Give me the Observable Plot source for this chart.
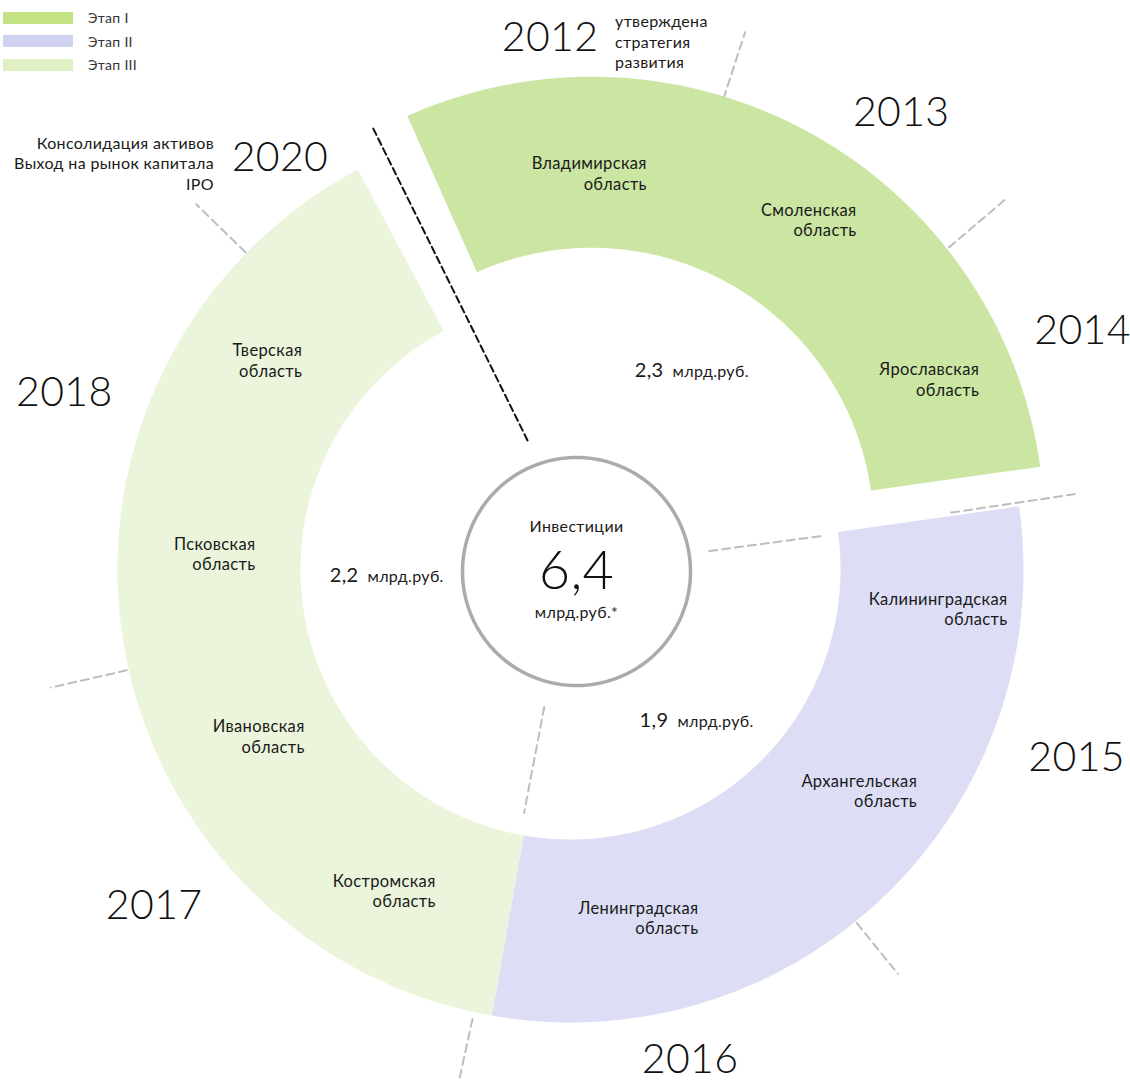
<!DOCTYPE html>
<html><head><meta charset="utf-8">
<script src="https://cdn.jsdelivr.net/npm/d3@7"></script>
<script src="https://cdn.jsdelivr.net/npm/@observablehq/plot@0.6"></script>
<style>
body{margin:0;background:#fff;font-family:Lato,"Open Sans",sans-serif;}
#wrap{position:relative;width:1130px;height:1081px;}
#legend{position:absolute;left:3px;top:6px;font-size:14px;color:#333;letter-spacing:0.3px;}
.row{display:flex;align-items:center;height:23.5px;}
.sw{width:70px;height:12px;margin-right:15px;}
svg text{letter-spacing:0.35px;}
</style></head><body><div id="wrap"><div id="legend"></div></div>
<script>
// ---------- data ----------
const stages = ["Этап I", "Этап II", "Этап III"];
const stageInvestment = [2.3, 1.9, 2.2];           // млрд.руб.
const totalInvestment = "6,4";
const regions = ["Владимирская\nобласть", "Смоленская\nобласть", "Ярославская\nобласть",
  "Калининградская\nобласть", "Архангельская\nобласть", "Ленинградская\nобласть",
  "Костромская\nобласть", "Ивановская\nобласть", "Псковская\nобласть", "Тверская\nобласть"];
const regionStage = ["Этап I", "Этап I", "Этап I", "Этап II", "Этап II", "Этап II",
  "Этап III", "Этап III", "Этап III", "Этап III"];
const cycleStartAngle = -26;                        // degrees clockwise from 12 o'clock
const years = ["2012", "2013", "2014", "2015", "2016", "2017", "2018", "2020"];
const yearAngles = [-2.2, 35.9, 65, 110.4, 166.3, 231.1, 289.2, 324.8];
const yearRadii = [532, 564, 565, 540, 505, 535, 536, 504];
const yearNotes = ["утверждена\nстратегия\nразвития", "", "", "", "", "", "",
  "Консолидация активов\nВыход на рынок капитала\nIPO"];
const regionLabelAngles = [8.8, 40.5, 68.7, 95.1, 122.5, 159.8, 202.8, 238, 272.9, 308];
const regionLabelRadii = [361, 408, 416, 438.7, 411, 370.8, 348, 313.5, 315.4, 340.5];
const valueLabelAngles = [26, 146, 268.3];
const valueLabelRadii = [221.4, 182.2, 208.1];
const markerAngles = [18, 49.6, 82.4, 81.5, 141, 190.8, 192.3, 257.2, 314.3];
const markerFrom = [495, 497, 140, 385, 455, 140, 460, 455, 454];
const markerTo = [565, 573, 255, 512, 520, 248, 522, 533, 523];
const cycleBreak = {angles: [335.9, 341.6], radii: [483, 136]};

// ---------- geometry / style constants ----------
const R_OUT = 453, R_IN = 270, R_IN_EXPLODED = 282, EXPLODE = 45, GAP = 2;
const HOLE = {x: 6, y: -2, r: 114};
const segmentColors = {"Этап I": "#cbe5a2", "Этап II": "#dddef5", "Этап III": "#ebf5dc"};
const legendColors = {"Этап I": "#c2e283", "Этап II": "#cfd1f1", "Этап III": "#dff0c2"};
const rad = d => d * Math.PI / 180;
const polar = (a, r, cx = 0, cy = 0) => ({x: cx + r * Math.sin(rad(a)), y: cy + r * Math.cos(rad(a))});

// segments from region counts
const perRegion = 360 / regions.length;
let acc = cycleStartAngle;
const segments = stages.map((s, i) => {
  const n = regionStage.filter(d => d === s).length;
  const seg = {stage: s, a0: acc, a1: acc + n * perRegion, value: stageInvestment[i], index: i};
  acc += n * perRegion;
  return seg;
});
segments.forEach(seg => {
  seg.exploded = seg.index === 0;
  const mid = (seg.a0 + seg.a1) / 2;
  seg.cx = seg.exploded ? EXPLODE * Math.sin(rad(mid)) : 0;
  seg.cy = seg.exploded ? EXPLODE * Math.cos(rad(mid)) : 0;
  seg.rIn = seg.exploded ? R_IN_EXPLODED : R_IN;
  seg.d0 = seg.exploded ? seg.a0 + GAP : seg.a0;
  seg.d1 = seg.index === stages.length - 1 ? seg.a1 - GAP : seg.a1;
});
function sectorPoints(seg) {
  const pts = [], N = 120;
  for (let k = 0; k <= N; k++) pts.push({...polar(seg.d0 + (seg.d1 - seg.d0) * k / N, R_OUT, seg.cx, seg.cy), stage: seg.stage});
  for (let k = N; k >= 0; k--) pts.push({...polar(seg.d0 + (seg.d1 - seg.d0) * k / N, seg.rIn, seg.cx, seg.cy), stage: seg.stage});
  return pts;
}
const segOf = s => segments.find(g => g.stage === s);

const regionLabels = regions.map((name, i) => {
  const g = segOf(regionStage[i]);
  return {name, ...polar(regionLabelAngles[i], regionLabelRadii[i], g.cx, g.cy)};
});
const yearLabels = years.map((y, i) => ({year: y, note: yearNotes[i], ...polar(yearAngles[i], yearRadii[i])}));
const valueLabels = segments.map((g, i) => ({
  value: String(g.value).replace(".", ","), ...polar(valueLabelAngles[i], valueLabelRadii[i])}));
const markers = markerAngles.flatMap((a, i) => [
  {id: i, ...polar(a, markerFrom[i])}, {id: i, ...polar(a, markerTo[i])}]);
const breakLine = cycleBreak.angles.map((a, i) => polar(a, cycleBreak.radii[i]));
const holePts = d3.range(0, 361, 2).map(a => polar(a, HOLE.r, HOLE.x, HOLE.y));

const font = 'Lato, "Open Sans", sans-serif';
const ink = "#1a1a1a";

const chart = Plot.plot({
  width: 1130, height: 1081,
  marginTop: 0, marginRight: 0, marginBottom: 0, marginLeft: 0,
  x: {domain: [-570, 560], axis: null},
  y: {domain: [-512, 569], axis: null},
  style: {fontFamily: font, background: "transparent"},
  marks: [
    Plot.line(markers, {x: "x", y: "y", z: "id", stroke: "#bdbdbd", strokeWidth: 2, strokeDasharray: "8,5"}),
    ...segments.map(g => Plot.line(sectorPoints(g), {x: "x", y: "y", curve: "linear-closed",
      fill: segmentColors[g.stage], stroke: "none"})),
    Plot.line(breakLine, {x: "x", y: "y", stroke: "#111", strokeWidth: 2, strokeDasharray: "7,4"}),
    Plot.line(holePts, {x: "x", y: "y", curve: "linear-closed", stroke: "#ababab", strokeWidth: 3.5, fill: "white"}),
    Plot.text(regionLabels, {x: "x", y: "y", text: "name", textAnchor: "end", lineAnchor: "middle",
      lineHeight: 1.25, fontSize: 16.5, fill: ink}),
    Plot.text(yearLabels, {x: "x", y: "y", text: "year", fontSize: 41, fill: "#111", fontWeight: 300}),
    Plot.text(yearLabels.filter((d, i) => i === 0), {x: "x", y: "y", text: "note", textAnchor: "start",
      lineAnchor: "middle", lineHeight: 1.3, fontSize: 16, dx: 65, dy: 3, fill: ink}),
    Plot.text(yearLabels.filter((d, i) => i === years.length - 1), {x: "x", y: "y", text: "note", textAnchor: "end",
      lineAnchor: "middle", lineHeight: 1.3, fontSize: 16, dx: -66, dy: 5, fill: ink}),
    Plot.text(valueLabels, {x: "x", y: "y", text: "value", textAnchor: "end", fontSize: 20, dx: -4, fill: ink}),
    Plot.text(valueLabels, {x: "x", y: "y", text: () => "млрд.руб.", textAnchor: "start", fontSize: 16, dx: 5, dy: 1, fill: ink}),
    Plot.text([HOLE], {x: "x", y: "y", text: () => "Инвестиции", fontSize: 16, dy: -45, fill: ink}),
    Plot.text([HOLE], {x: "x", y: "y", text: () => totalInvestment, fontSize: 54, dy: 0, fill: "#111", fontWeight: 300}),
    Plot.text([HOLE], {x: "x", y: "y", text: () => "млрд.руб.*", fontSize: 16, dy: 41, fill: ink})
  ]
});

const wrap = document.getElementById("wrap");
wrap.insertBefore(chart, wrap.firstChild);
chart.style.position = "absolute"; chart.style.left = "0"; chart.style.top = "0";

const legend = d3.select("#legend");
stages.forEach(s => {
  const row = legend.append("div").attr("class", "row");
  row.append("div").attr("class", "sw").style("background", legendColors[s]);
  row.append("span").text(s);
});
</script></body></html>
